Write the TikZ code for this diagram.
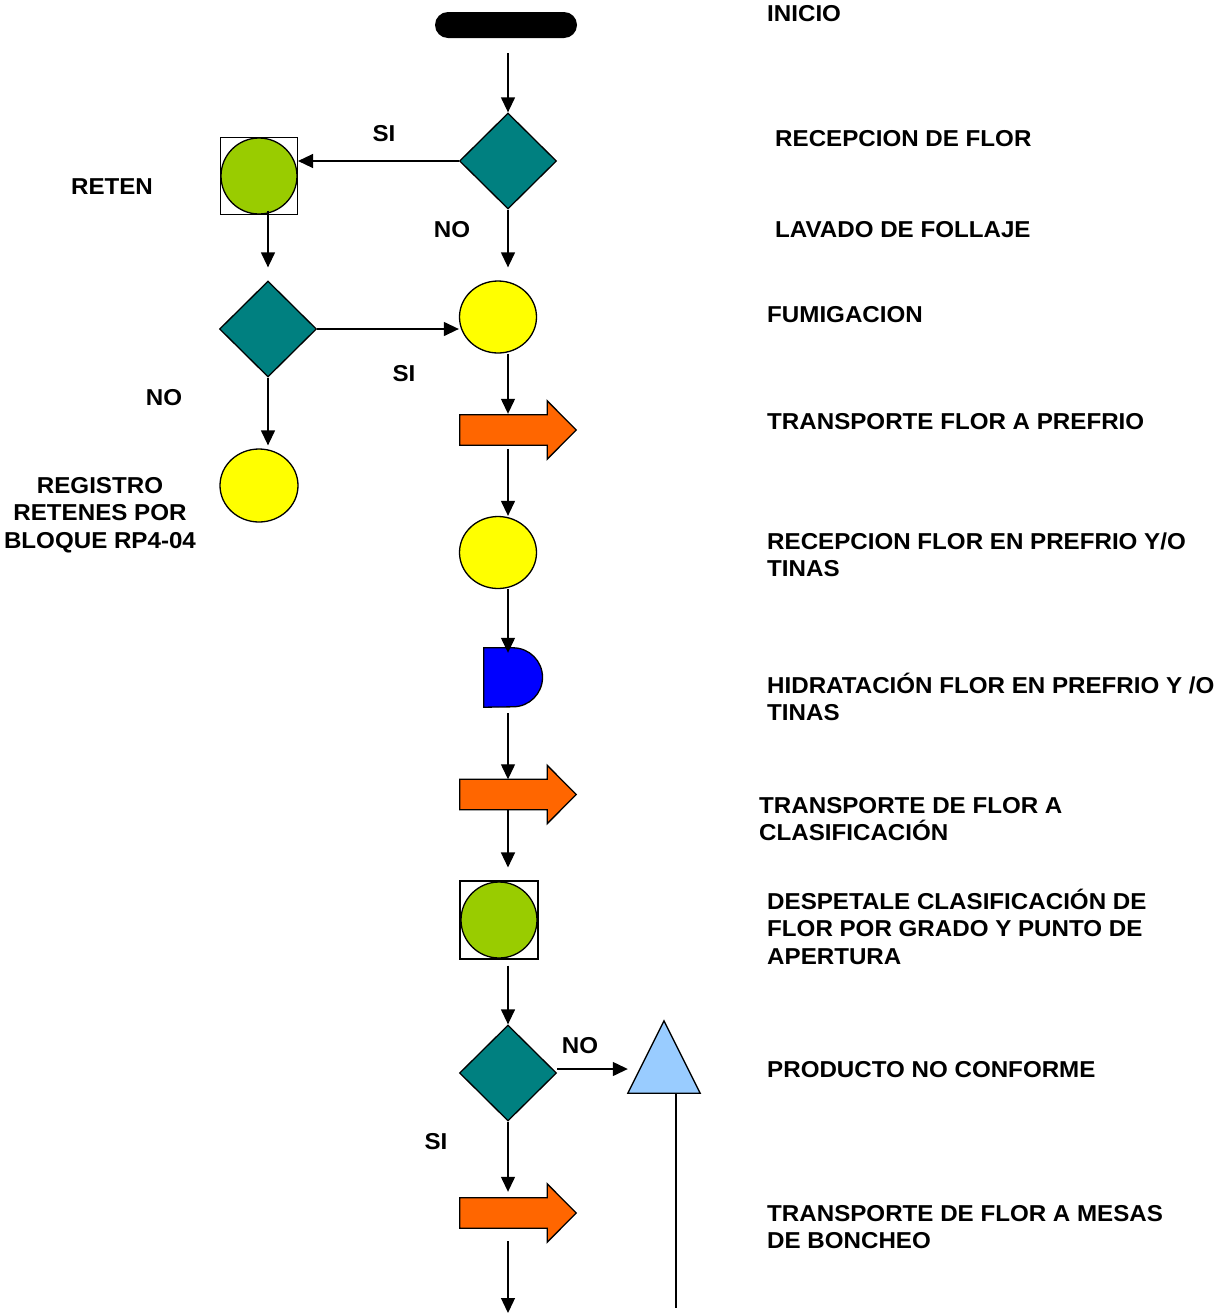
\documentclass[tikz,border=0pt]{standalone}
\usepackage{fontspec}
\setmainfont[FakeStretch=1.05]{Liberation Sans}
\usetikzlibrary{shapes.geometric,arrows.meta}
\definecolor{teal}{HTML}{008080}
\definecolor{lgreen}{HTML}{99CC00}
\definecolor{yel}{HTML}{FFFF00}
\definecolor{orng}{HTML}{FF6600}
\definecolor{blu}{HTML}{0000FF}
\definecolor{lblue}{HTML}{99CCFF}
\tikzset{
  every node/.style={inner sep=0pt},
  lbl/.style={font=\fontsize{23}{27.5}\selectfont\bfseries, align=left, anchor=base west},
  clbl/.style={font=\fontsize{23}{27.5}\selectfont\bfseries, align=center, anchor=base},
  dec/.style={diamond, draw, fill=teal, line width=1.3pt, minimum width=97pt, minimum height=96pt},
  yc/.style={ellipse, draw, fill=yel, line width=1.3pt, minimum width=77pt, minimum height=72pt},
  gc/.style={circle, draw, fill=lgreen, line width=1.3pt, minimum size=76pt},
  sqbox/.style={rectangle, draw, line width=1.1pt, minimum size=77pt},
  body/.style={rectangle, minimum width=87pt, minimum height=30pt},
  conn/.style={line width=1.3pt, -{Triangle[length=15pt,width=14pt]}},
  plain/.style={line width=1.3pt},
  oarrow/.style={draw, fill=orng, line width=1.3pt},
}
\newcommand{\orarrow}[1]{%
  \path[oarrow] (#1.south west) -- (#1.north west) -- (#1.north east) -- ([yshift=14pt]#1.north east)
    -- ([xshift=29pt]#1.east) -- ([yshift=-14pt]#1.south east) -- (#1.south east) -- cycle;}
\begin{document}
\begin{tikzpicture}[x=1pt,y=1pt]
\useasboundingbox (0,0) rectangle (1214,-1315);

% nodes
\node[rectangle, rounded corners=13pt, fill=black, minimum width=142pt, minimum height=26pt] (start) at (506,-25) {};
\node[dec] (d1) at (508,-161) {};
\node[sqbox] (sq1) at (259,-176) {};
\node[gc] (g1) at (259,-176) {};
\node[dec] (d2) at (268,-329) {};
\node[yc] (y1) at (498,-317) {};
\node[yc, minimum width=78pt, minimum height=73pt] (y0) at (259,-485.5) {};
\node[body] (t1) at (503.5,-430) {};
\orarrow{t1}
\node[yc] (y2) at (498,-552.5) {};
\node[rectangle, minimum width=58pt, minimum height=59pt] (dd) at (513,-677.5) {};
\draw[fill=blu, line width=1.3pt] (dd.north west) -- (dd.north) arc[start angle=90,end angle=-90,radius=29.5pt] -- (dd.south west) -- cycle;
\node[body] (t2) at (503.5,-794.5) {};
\orarrow{t2}
\node[sqbox, minimum size=78pt] (sq2) at (499,-920) {};
\node[gc] (g2) at (499,-920) {};
\node[dec] (d3) at (508,-1073) {};
\node[rectangle, minimum width=72pt, minimum height=72pt] (tri) at (664,-1057) {};
\draw[fill=lblue, line width=1.3pt] (tri.south west) -- (tri.north) -- (tri.south east) -- cycle;
\node[body] (t3) at (503.5,-1213) {};
\orarrow{t3}
\coordinate (endA) at (508,-1313);
\coordinate (endB) at (676,-1308);

% connectors
\draw[conn, shorten <=15pt] ([xshift=2pt]start.south) -- (d1.north);
\draw[conn] (d1.west) -- (d1.west -| sq1.east);
\draw[conn, shorten >=13pt] ([xshift=9pt,yshift=4pt]g1.south) -- (d2.north);
\draw[conn, shorten >=13pt] (d1.south) -- (d1.south |- y1.north);
\draw[conn] (d2.east) -- (d2.east -| y1.west);
\draw[conn, shorten >=3pt] (d2.south) -- (d2.south |- y0.north);
\draw[conn, shorten >=1pt] (d1.south |- y1.south) -- (d1.south |- t1.north);
\draw[conn, shorten <=4pt] (d1.south |- t1.south) -- (d1.south |- y2.north);
\draw[conn, shorten >=-5pt] (d1.south |- y2.south) -- (d1.south |- dd.north);
\draw[conn, shorten <=6pt] (d1.south |- dd.south) -- (d1.south |- t2.north);
\draw[conn, shorten >=13pt] (d1.south |- t2.south) -- (d1.south |- sq2.north);
\draw[conn, shorten <=6pt] (d1.south |- sq2.south) -- (d3.north);
\draw[conn] ([yshift=4pt]d3.east) -- ([yshift=4pt]d3.east -| tri.west);
\draw[conn, shorten >=6pt] (d3.south) -- (d3.south |- t3.north);
\draw[conn, shorten <=13pt] (d1.south |- t3.south) -- (endA);
\draw[plain] (endB |- tri.south) -- (endB);

% decision labels
\node[clbl] at (384,-141) {SI};
\node[clbl] at (452,-237) {NO};
\node[clbl] at (112,-194) {RETEN};
\node[clbl] at (404,-381) {SI};
\node[clbl] at (164,-405) {NO};
\node[clbl] at (100,-548) {REGISTRO\\RETENES POR\\BLOQUE RP4-04};
\node[clbl] at (580,-1053) {NO};
\node[clbl] at (436,-1149) {SI};

% step labels
\node[lbl] at (767,-21) {INICIO};
\node[lbl] at (775,-146) {RECEPCION DE FLOR};
\node[lbl] at (775,-237) {LAVADO DE FOLLAJE};
\node[lbl] at (767,-322) {FUMIGACION};
\node[lbl] at (767,-429) {TRANSPORTE FLOR A PREFRIO};
\node[lbl] at (767,-576.5) {RECEPCION FLOR EN PREFRIO Y/O\\TINAS};
\node[lbl] at (767,-720.5) {HIDRATACIÓN FLOR EN PREFRIO Y /O\\TINAS};
\node[lbl] at (759,-840.5) {TRANSPORTE DE FLOR A\\CLASIFICACIÓN};
\node[lbl] at (767,-964) {DESPETALE CLASIFICACIÓN DE\\FLOR POR GRADO Y PUNTO DE\\APERTURA};
\node[lbl] at (767,-1077) {PRODUCTO NO CONFORME};
\node[lbl] at (767,-1248.5) {TRANSPORTE DE FLOR A MESAS\\DE BONCHEO};
\end{tikzpicture}
\end{document}
